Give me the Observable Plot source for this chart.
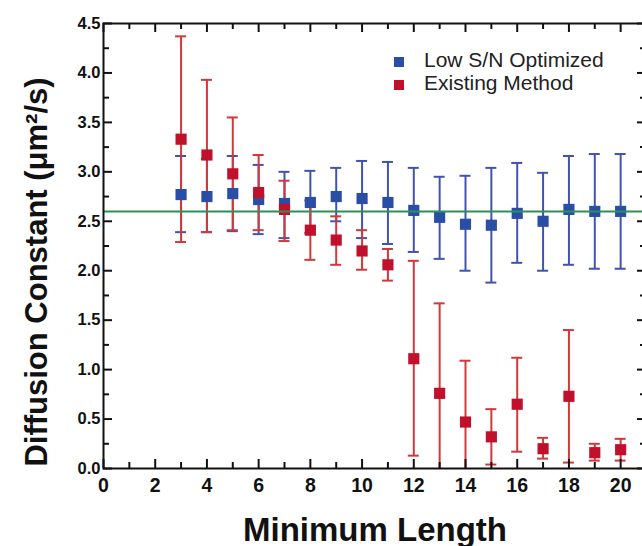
<!DOCTYPE html>
<html><head><meta charset="utf-8">
<script src="https://cdn.jsdelivr.net/npm/d3@7"></script>
<script src="https://cdn.jsdelivr.net/npm/@observablehq/plot@0.6"></script>
<style>
html,body{margin:0;padding:0;background:#fff;overflow:hidden;}
#wrap{position:relative;width:642px;height:546px;overflow:hidden;}
#wrap svg{max-width:none !important;width:646px !important;height:546px !important;}
.lg{position:absolute;font-family:"Liberation Sans",Arial,sans-serif;font-size:21px;line-height:21px;color:#222;white-space:nowrap;}
.sw{position:absolute;width:10px;height:10px;}
</style></head><body><div id="wrap"></div>
<script>
// Data
const minLength = [3,4,5,6,7,8,9,10,11,12,13,14,15,16,17,18,19,20];
const lowSN     = [2.77,2.75,2.78,2.72,2.68,2.69,2.75,2.73,2.69,2.61,2.54,2.47,2.46,2.58,2.50,2.62,2.60,2.60];
const lowSNLow  = [2.39,2.39,2.40,2.37,2.33,2.38,2.50,2.33,2.27,2.19,2.12,2.00,1.88,2.08,2.00,2.06,2.02,2.02];
const lowSNHigh = [3.16,3.13,3.16,3.07,3.00,3.01,3.04,3.11,3.10,3.04,2.95,2.96,3.04,3.09,2.99,3.16,3.18,3.18];
const existing     = [3.33,3.17,2.98,2.79,2.62,2.41,2.31,2.20,2.06,1.11,0.76,0.47,0.32,0.65,0.20,0.73,0.16,0.19];
const existingLow  = [2.29,2.39,2.41,2.41,2.30,2.11,2.06,2.01,1.90,0.13,-0.10,-0.10,0.04,0.17,0.10,0.06,0.08,0.08];
const existingHigh = [4.37,3.93,3.55,3.17,2.91,2.71,2.55,2.41,2.22,2.10,1.67,1.09,0.60,1.12,0.31,1.40,0.25,0.30];
const referenceValue = 2.6;
const seriesNames = ["Low S/N Optimized", "Existing Method"];
const xMajor = [0,2,4,6,8,10,12,14,16,18,20];
const xMinor = [1,3,5,7,9,11,13,15,17,19];
const yMajor = [0,0.5,1,1.5,2,2.5,3,3.5,4,4.5];
const yMinor = [0.25,0.75,1.25,1.75,2.25,2.75,3.25,3.75,4.25];
const xTitle = "Minimum Length";
const yTitle = "Diffusion Constant (\u03bcm\u00b2/s)";

const blueSq = "#2a4ea6", blueBar = "#4152b0";
const redSq = "#c0102c", redBar = "#d2383a";
const green = "#2a9154";

const blueData = minLength.map((x,i)=>({x, y: lowSN[i], lo: lowSNLow[i], hi: lowSNHigh[i]}));
const redData = minLength.map((x,i)=>({x, y: existing[i], lo: existingLow[i], hi: existingHigh[i]}));

const W = 646, H = 546, mL = 103, mR = 0, mT = 23, mB = 78;
const fw = W - mL - mR, fh = H - mT - mB;
const font = "'Liberation Sans', Arial, sans-serif";

function bars(data, color) {
  return [
    Plot.ruleX(data, {x: "x", y1: "lo", y2: "hi", stroke: color, strokeWidth: 2, clip: true}),
    Plot.ruleY(data, {x1: "x", x2: "x", y: "hi", insetLeft: -5.5, insetRight: -5.5, stroke: color, strokeWidth: 2, clip: true}),
    Plot.ruleY(data, {x1: "x", x2: "x", y: "lo", insetLeft: -5.5, insetRight: -5.5, stroke: color, strokeWidth: 2, clip: true})
  ];
}

const plot = Plot.plot({
  width: W, height: H,
  marginLeft: mL, marginRight: mR, marginTop: mT, marginBottom: mB,
  x: {domain: [0, 21]},
  y: {domain: [0, 4.5]},
  style: {fontFamily: font, background: "white", color: "#111", maxWidth: "none"},
  marks: [
    Plot.axisX({ticks: xMajor, tickSize: 0, tickPadding: 10, fontSize: 19.5, fontWeight: "bold", label: null, tickFormat: d => String(d)}),
    Plot.axisY({ticks: yMajor, tickSize: 0, tickPadding: 3, fontSize: 16.5, fontWeight: "bold", label: null, tickFormat: d3.format(".1f")}),
    ...bars(blueData, blueBar),
    ...bars(redData, redBar),
    Plot.dot(blueData, {x: "x", y: "y", symbol: "square", r: 6.3, fill: blueSq}),
    Plot.dot(redData, {x: "x", y: "y", symbol: "square", r: 6.3, fill: redSq}),
    Plot.ruleY([referenceValue], {stroke: green, strokeWidth: 2}),
    // ticks (inward) bottom/top
    Plot.tickX(xMajor, {x: d => d, insetTop: fh - 9, stroke: "#111", strokeWidth: 2}),
    Plot.tickX(xMinor, {x: d => d, insetTop: fh - 6, stroke: "#111", strokeWidth: 2}),
    Plot.tickX(xMajor, {x: d => d, insetBottom: fh - 9, stroke: "#111", strokeWidth: 2}),
    Plot.tickX(xMinor, {x: d => d, insetBottom: fh - 6, stroke: "#111", strokeWidth: 2}),
    // left/right
    Plot.tickY(yMajor, {y: d => d, insetRight: fw - 9, stroke: "#111", strokeWidth: 2}),
    Plot.tickY(yMinor, {y: d => d, insetRight: fw - 6, stroke: "#111", strokeWidth: 2}),
    Plot.tickY(yMajor, {y: d => d, insetLeft: fw - 9, stroke: "#111", strokeWidth: 2}),
    Plot.tickY(yMinor, {y: d => d, insetLeft: fw - 6, stroke: "#111", strokeWidth: 2}),
    Plot.frame({stroke: "#111", strokeWidth: 2}),
    Plot.text([xTitle], {frameAnchor: "bottom", textAnchor: "middle", dy: 72, lineAnchor: "bottom", fontSize: 33, fontWeight: "bold", fill: "#111"}),
    Plot.text([yTitle], {frameAnchor: "left", textAnchor: "middle", dx: -57, dy: 26, rotate: -90, lineAnchor: "bottom", fontSize: 31, fontWeight: "bold", fill: "#111"})
  ]
});
const wrap = document.getElementById("wrap");
wrap.appendChild(plot);

// Legend overlay
const legendColors = [blueSq, redSq];
seriesNames.forEach((name, i) => {
  const sw = document.createElement("div");
  sw.className = "sw";
  sw.style.left = "394px";
  sw.style.top = (57 + i * 23) + "px";
  sw.style.background = legendColors[i];
  wrap.appendChild(sw);
  const t = document.createElement("div");
  t.className = "lg";
  t.style.left = "424px";
  t.style.top = (49 + i * 23) + "px";
  t.textContent = name;
  wrap.appendChild(t);
});
</script>
</body></html>
